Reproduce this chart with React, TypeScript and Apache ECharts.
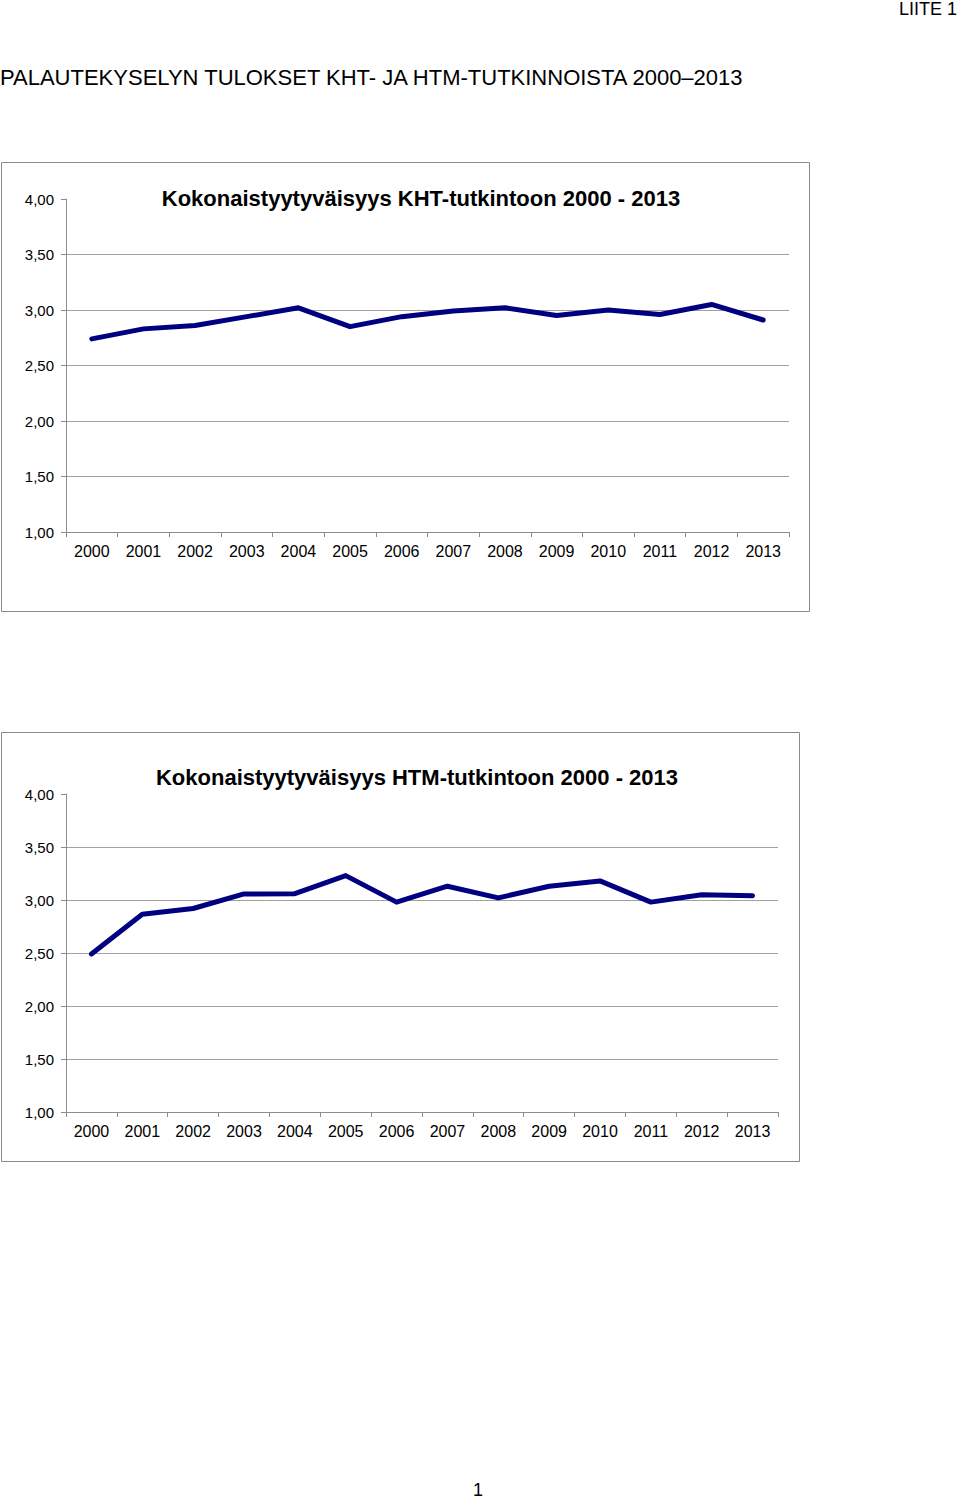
import React, { useEffect, useRef } from "react";
import * as echarts from "echarts";

const years = ["2000", "2001", "2002", "2003", "2004", "2005", "2006", "2007", "2008", "2009", "2010", "2011", "2012", "2013"];
const khtValues = [2.74, 2.83, 2.86, 2.94, 3.02, 2.85, 2.94, 2.99, 3.02, 2.95, 3.0, 2.96, 3.05, 2.91];
const htmValues = [2.49, 2.865, 2.92, 3.057, 3.06, 3.23, 2.98, 3.13, 3.02, 3.13, 3.18, 2.98, 3.05, 3.04];
const pageTitle = "PALAUTEKYSELYN TULOKSET KHT- JA HTM-TUTKINNOISTA 2000–2013";
const khtTitle = "Kokonaistyytyväisyys KHT-tutkintoon 2000 - 2013";
const htmTitle = "Kokonaistyytyväisyys HTM-tutkintoon 2000 - 2013";

const FONT = "'Liberation Sans', Arial, sans-serif";
const AXIS_GRAY = "#8c8c8c";
const LINE_COLOR = "#000080";

function yAxis(gridIndex: number) {
  return {
    type: "value",
    gridIndex,
    min: 1,
    max: 4,
    interval: 0.5,
    axisLine: { show: true, lineStyle: { color: AXIS_GRAY, width: 1 } },
    axisTick: { show: true, length: 5, lineStyle: { color: AXIS_GRAY } },
    axisLabel: {
      margin: 12,
      fontFamily: FONT,
      fontSize: 15,
      color: "#000",
      formatter: (v: number) => v.toFixed(2).replace(".", ","),
    },
    splitLine: { show: true, showMaxLine: false, lineStyle: { color: "#a0a0a0", width: 1 } },
  };
}

function xAxis(gridIndex: number) {
  return {
    type: "category",
    gridIndex,
    data: years,
    boundaryGap: true,
    axisLine: { show: true, lineStyle: { color: AXIS_GRAY, width: 1 } },
    axisTick: { show: true, length: 5, alignWithLabel: false, lineStyle: { color: AXIS_GRAY } },
    axisLabel: { margin: 11, fontFamily: FONT, fontSize: 16, color: "#000", interval: 0 },
    splitLine: { show: false },
  };
}

export default function App() {
  const ref = useRef<HTMLDivElement>(null);
  useEffect(() => {
    if (!ref.current) return;
    const chart = echarts.init(ref.current, null, { renderer: "svg" });
    chart.setOption({
      animation: false,
      backgroundColor: "#fff",
      grid: [
        { left: 66, top: 199, width: 723, height: 333, containLabel: false },
        { left: 66, top: 794, width: 712, height: 318, containLabel: false },
      ],
      xAxis: [xAxis(0), xAxis(1)],
      yAxis: [yAxis(0), yAxis(1)],
      series: [
        {
          type: "line",
          xAxisIndex: 0,
          yAxisIndex: 0,
          data: khtValues,
          symbol: "none",
          lineStyle: { color: LINE_COLOR, width: 5, cap: "round", join: "round" },
        },
        {
          type: "line",
          xAxisIndex: 1,
          yAxisIndex: 1,
          data: htmValues,
          symbol: "none",
          lineStyle: { color: LINE_COLOR, width: 5, cap: "round", join: "round" },
        },
      ],
      graphic: [
        {
          type: "rect",
          shape: { x: 1.5, y: 162.5, width: 808, height: 449 },
          style: { fill: "none", stroke: "#8a8a8a", lineWidth: 1 },
          z: -1,
        },
        {
          type: "rect",
          shape: { x: 1.5, y: 732.5, width: 798, height: 429 },
          style: { fill: "none", stroke: "#8a8a8a", lineWidth: 1 },
          z: -1,
        },
        {
          type: "text",
          x: 957,
          y: 9,
          style: { text: "LIITE 1", fontFamily: FONT, fontSize: 18, fill: "#000", textAlign: "right", textVerticalAlign: "middle" },
        },
        {
          type: "text",
          x: 0,
          y: 77,
          style: { text: pageTitle, fontFamily: FONT, fontSize: 22, fill: "#000", textAlign: "left", textVerticalAlign: "middle" },
        },
        {
          type: "text",
          x: 421,
          y: 198,
          style: { text: khtTitle, fontFamily: FONT, fontSize: 22, fontWeight: "bold", fill: "#000", textAlign: "center", textVerticalAlign: "middle" },
        },
        {
          type: "text",
          x: 417,
          y: 777,
          style: { text: htmTitle, fontFamily: FONT, fontSize: 22, fontWeight: "bold", fill: "#000", textAlign: "center", textVerticalAlign: "middle" },
        },
        {
          type: "text",
          x: 478,
          y: 1490,
          style: { text: "1", fontFamily: FONT, fontSize: 18, fill: "#000", textAlign: "center", textVerticalAlign: "middle" },
        },
      ],
    });
    return () => chart.dispose();
  }, []);
  return (
    <div
      ref={ref}
      style={{ position: "absolute", left: 0, top: 0, width: 960, height: 1499 }}
    />
  );
}
